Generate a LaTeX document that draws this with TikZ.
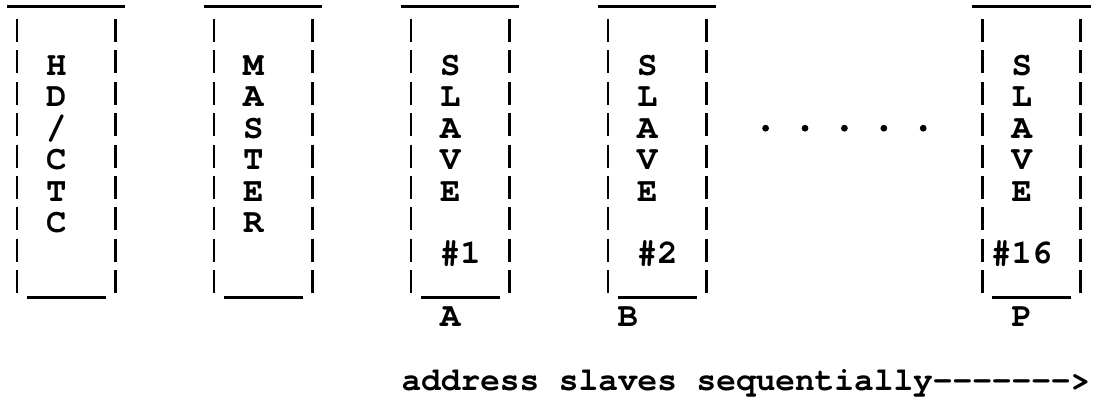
\documentclass[tikz,border=0pt]{standalone}
\usepackage{fontspec}
\setmonofont{TeX Gyre Cursor}
\usepackage{tikz}

\begin{document}
\begin{tikzpicture}[
		x=9.85pt, y=-15.7pt,
		every node/.style={inner sep=0pt, text height=10pt, text depth=0pt,
			font=\ttfamily\bfseries\fontsize{17}{17}\selectfont},
		side/.style={line width=1.35pt, dash pattern=on 11.5pt off 4.2pt},
		bar/.style={line width=1.5pt}
	]
  \useasboundingbox (-0.863,-0.083) rectangle (54.72,12.53);
  % the five boxes, by left column
  \foreach \name/\c in {hdctc/0, master/10, slaveA/20, slaveB/30, slaveP/49} {
    \coordinate (\name-top) at (\c-0.5, 0.14);
    \coordinate (\name-left) at (\c, 0.52);
    \coordinate (\name-right) at (\c+5, 0.52);
    \coordinate (\name-bot) at (\c+0.5, 9.38);
    \draw[bar] (\name-top) -- ++(6,0);
    \draw[side] (\name-left) -- ++(0,8.73);
    \draw[side] (\name-right) -- ++(0,8.73);
    \draw[bar] (\name-bot) -- ++(4,0);
  }
  \foreach \ch [count=\i from 2] in {H,D,/,C,T,C}
    \node (hd-\i) at (2,\i) {\ch};
  \foreach \ch [count=\i from 2] in {M,A,S,T,E,R}
    \node (ms-\i) at (12,\i) {\ch};
  \foreach \c in {22,32,51}
    \foreach \ch [count=\i from 2] in {S,L,A,V,E}
      \node (sl-\c-\i) at (\c,\i) {\ch};
  \node (num_a) at (22.5,8) {\#1};
  \node (num_b) at (32.5,8) {\#2};
  \node (num_p) at (51,8) {\#16};
  \node (lbl_a) at (22,10) {A};
  \node (lbl_b) at (31,10) {B};
  \node (lbl_p) at (51,10) {P};
  \foreach \c in {38,40,...,46}
    \node (dot-\c) [circle, fill, minimum size=3.4pt, text height=, text depth=] at (\c,4) {};
  \node (addr) [anchor=base west, font=\ttfamily\bfseries\fontsize{16.4}{16.4}\selectfont]
    at (19.5,12.34) {address slaves sequentially------->};
\end{tikzpicture}
\end{document}
